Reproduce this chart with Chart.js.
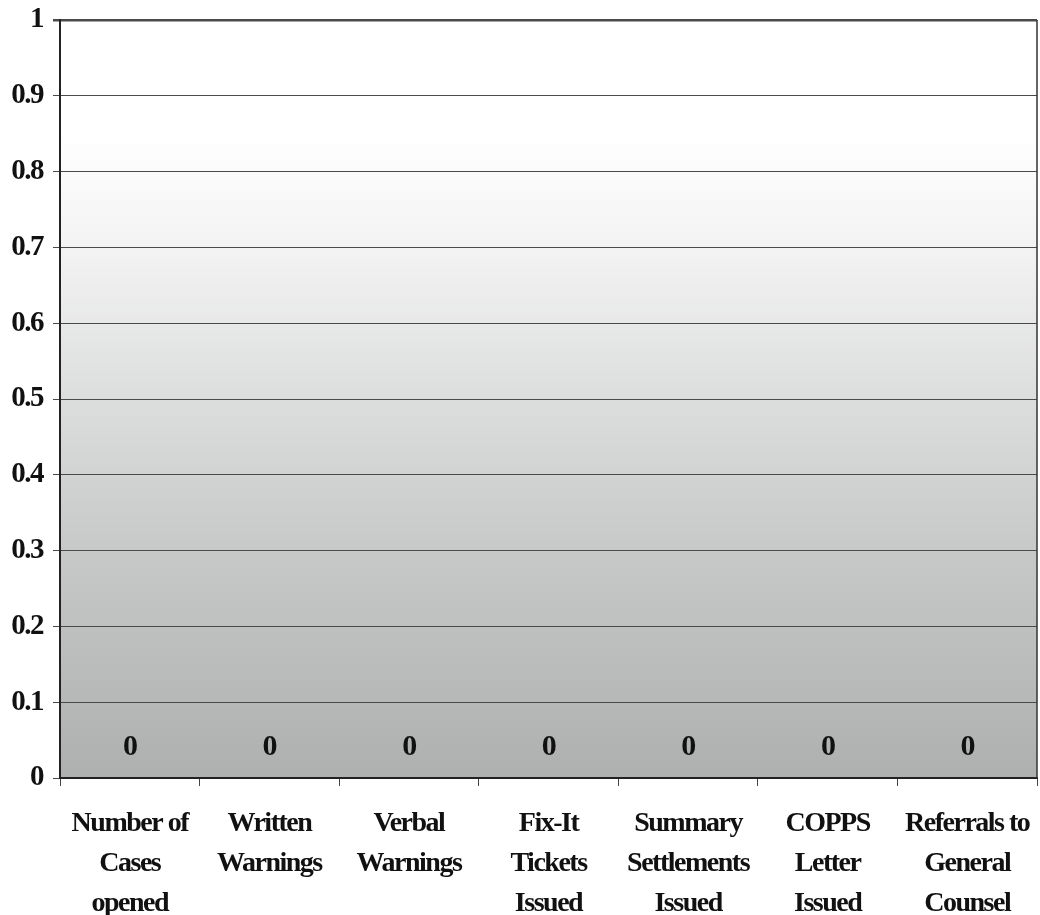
<!DOCTYPE html>
<html><head><meta charset="utf-8">
<script src="https://cdn.jsdelivr.net/npm/chart.js@4"></script>
<style>html,body{margin:0;padding:0;background:#fff}canvas{display:block}</style>
</head><body>
<canvas id="c" width="1040" height="915"></canvas>
<script>
const categories = [
  ["Number of","Cases","opened"],
  ["Written","Warnings"],
  ["Verbal","Warnings"],
  ["Fix-It","Tickets","Issued"],
  ["Summary","Settlements","Issued"],
  ["COPPS","Letter","Issued"],
  ["Referrals to","General","Counsel"]
];
const values = [0, 0, 0, 0, 0, 0, 0];
const yMin = 0;
const yMax = 1;
const yStep = 0.1;

const FONT = "'Liberation Serif', 'Times New Roman', serif";
const SPACING = '-1.5px';

const spacingPlugin = {
  id: 'spacing',
  beforeUpdate(chart) { chart.ctx.letterSpacing = SPACING; },
  beforeLayout(chart) { chart.ctx.letterSpacing = SPACING; },
  beforeDraw(chart) { chart.ctx.letterSpacing = SPACING; }
};

const bgPlugin = {
  id: 'bg',
  beforeDraw(chart) {
    const {ctx, chartArea: a} = chart;
    const g = ctx.createLinearGradient(0, a.top, 0, a.bottom);
    g.addColorStop(0, '#ffffff');
    g.addColorStop(0.15, '#ffffff');
    g.addColorStop(0.3, '#f2f3f2');
    g.addColorStop(0.5, '#dcdedd');
    g.addColorStop(0.7, '#c6c9c7');
    g.addColorStop(1, '#adb0ae');
    ctx.save();
    ctx.fillStyle = g;
    ctx.fillRect(a.left, a.top, a.right - a.left, a.bottom - a.top);
    ctx.restore();
  },
  afterDraw(chart) {
    const {ctx, chartArea: a} = chart;
    ctx.save();
    ctx.strokeStyle = '#333';
    ctx.lineWidth = 1.5;
    ctx.beginPath();
    ctx.moveTo(a.right, a.top);
    ctx.lineTo(a.right, a.bottom);
    ctx.stroke();
    ctx.restore();
  }
};

const labelPlugin = {
  id: 'vlabels',
  afterDatasetsDraw(chart) {
    const {ctx} = chart;
    const meta = chart.getDatasetMeta(0);
    ctx.save();
    ctx.letterSpacing = SPACING;
    ctx.font = "bold 30px " + FONT;
    ctx.fillStyle = '#111';
    ctx.textAlign = 'center';
    ctx.textBaseline = 'middle';
    meta.data.forEach((el, i) => {
      ctx.fillText(String(values[i]), el.x, el.y - 31);
    });
    ctx.restore();
  }
};

new Chart(document.getElementById('c'), {
  type: 'bar',
  data: {
    labels: categories,
    datasets: [{
      data: values,
      backgroundColor: 'rgba(0,0,0,0)',
      borderWidth: 0
    }]
  },
  options: {
    responsive: false,
    animation: false,
    events: [],
    layout: { padding: { top: 20, right: 3, left: 0, bottom: 0 } },
    plugins: { legend: { display: false }, tooltip: { enabled: false } },
    scales: {
      x: {
        afterFit(s) { s.height = 137; s.paddingLeft = 0; s.paddingRight = 0; },
        grid: {
          drawOnChartArea: false,
          drawTicks: true,
          tickLength: 8,
          color: '#444',
          lineWidth: 1
        },
        border: { display: true, color: '#222', width: 2 },
        ticks: {
          autoSkip: false,
          maxRotation: 0,
          minRotation: 0,
          padding: 18,
          color: '#111',
          font: { family: FONT, size: 28, weight: 'bold', lineHeight: 1.43 }
        }
      },
      y: {
        min: yMin,
        max: yMax,
        afterFit(s) { s.width = 60; s.paddingTop = 0; s.paddingBottom = 0; },
        grid: {
          color: '#4a4a4a',
          lineWidth: (c) => (c.tick && c.tick.value === yMax ? 2.5 : 1),
          drawTicks: true,
          tickLength: 7
        },
        border: { display: true, color: '#222', width: 2 },
        ticks: {
          stepSize: yStep,
          padding: 10,
          color: '#111',
          callback: (v) => String(+v.toFixed(1)),
          font: { family: FONT, size: 29, weight: 'bold' }
        }
      }
    }
  },
  plugins: [spacingPlugin, bgPlugin, labelPlugin]
});
</script>
</body></html>
